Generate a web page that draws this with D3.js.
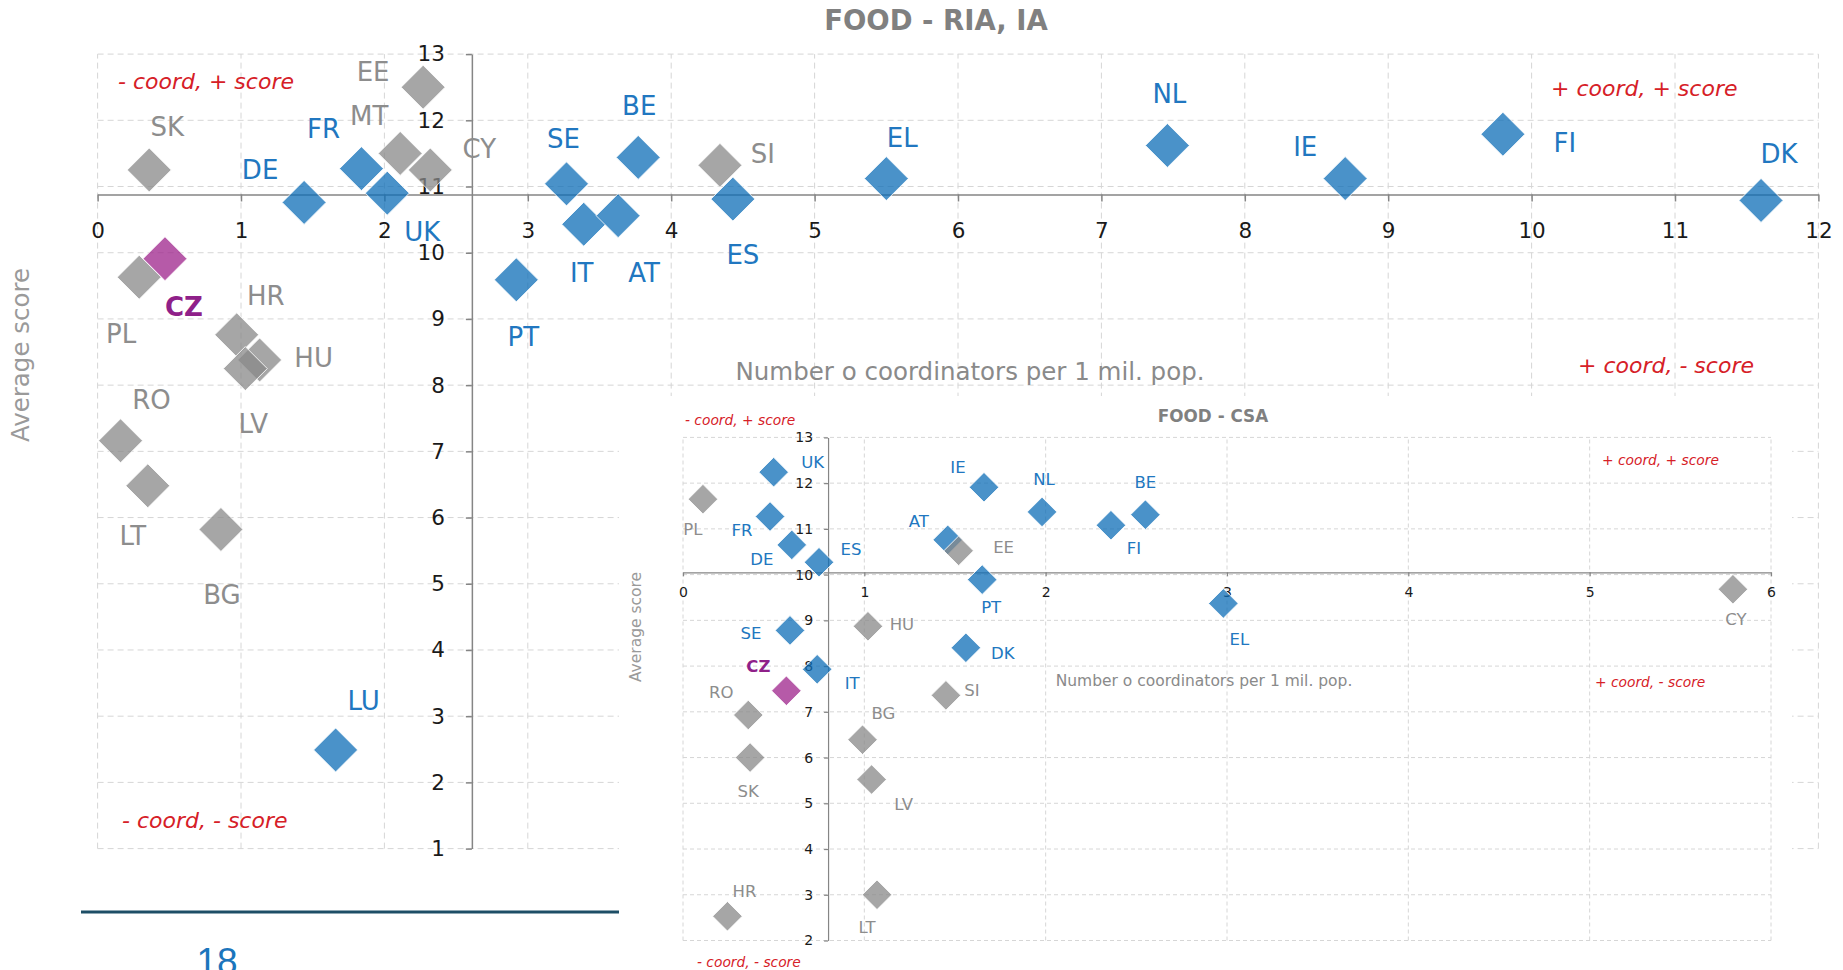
<!DOCTYPE html>
<html><head><meta charset="utf-8">
<script src="https://cdn.jsdelivr.net/npm/d3@7"></script>
<style>
body{margin:0;background:#fff;}
svg{display:block;font-family:"DejaVu Sans",Verdana,sans-serif;}
</style>
</head><body>
<svg id="c" width="1843" height="970"></svg>
<script>
// ================= DATA =================
// Main chart: FOOD - RIA, IA
const mainCountries = ["EE","SK","MT","CY","SI","PL","HR","HU","LV","RO","LT","BG",
  "FR","DE","UK","SE","BE","IT","AT","PT","ES","EL","NL","IE","FI","DK","LU","CZ"];
const mainCoord = [2.27,0.36,2.11,2.32,4.34,0.29,0.97,1.13,1.03,0.16,0.35,0.86,
  1.84,1.44,2.02,3.27,3.77,3.39,3.63,2.92,4.43,5.50,7.46,8.70,9.80,11.60,1.66,0.47];
const mainScore = [12.50,11.25,11.50,11.25,11.32,9.63,8.76,8.38,8.25,7.16,6.48,5.82,
  11.27,10.76,10.90,11.04,11.44,10.43,10.56,9.59,10.81,11.12,11.62,11.12,11.79,10.79,2.49,9.91];
const mainGroup = ["g","g","g","g","g","g","g","g","g","g","g","g",
  "b","b","b","b","b","b","b","b","b","b","b","b","b","b","b","cz"];
const mainXTicks = [0,1,2,3,4,5,6,7,8,9,10,11,12];
const mainYTicks = [1,2,3,4,5,6,7,8,9,10,11,12,13];
const mainCross = {coord: 2.61, score: 10.88};

// Inset chart: FOOD - CSA
const insetCountries = ["PL","HU","SI","RO","BG","SK","LV","LT","HR","CY",
  "UK","FR","DE","ES","IE","NL","BE","FI","AT","PT","EL","SE","DK","IT","EE","CZ"];
const insetCoord = [0.11,1.02,1.45,0.36,0.99,0.37,1.04,1.07,0.245,5.79,
  0.50,0.48,0.60,0.75,1.66,1.98,2.55,2.36,1.46,1.65,2.98,0.59,1.56,0.74,1.52,0.57];
const insetScore = [11.65,8.87,7.36,6.93,6.39,6.00,5.52,3.00,2.53,9.68,
  12.24,11.27,10.65,10.27,11.91,11.37,11.31,11.08,10.76,9.89,9.37,8.78,8.40,7.93,10.52,7.46];
const insetGroup = ["g","g","g","g","g","g","g","g","g","g",
  "b","b","b","b","b","b","b","b","b","b","b","b","b","b","g","cz"];
const insetXTicks = [0,1,2,3,4,5,6];
const insetYTicks = [2,3,4,5,6,7,8,9,10,11,12,13];
const insetCross = {coord: 0.8, score: 10.05};

const quadrantTexts = ["- coord, + score","+ coord, + score","+ coord, - score","- coord, - score"];
const xTitle = "Number o coordinators per 1 mil. pop.";
const yTitle = "Average score";
const pageNumber = "18";

// ================= LAYOUT / STYLE =================
const mainLabelOffset = {
  EE:[-50,-16], SK:[18,-43], MT:[-31,-38], CY:[49,-21], SI:[43,-12], PL:[-18,56],
  HR:[29,-39], HU:[54,-2], LV:[8,55], RO:[31,-41], LT:[-15,50], BG:[1,65],
  FR:[-38,-40], DE:[-44,-33], UK:[35,39], SE:[-3,-45], BE:[1,-52], IT:[-2,48],
  AT:[26,57], PT:[7,57], ES:[10,56], EL:[16,-41], NL:[2,-52], IE:[-40,-32],
  FI:[62,8], DK:[18,-47], LU:[28,-49], CZ:[19,48]
};
const insetLabelOffset = {
  UK:[39,-10], PL:[-10,30], FR:[-28,14], DE:[-30,14], ES:[32,-13], IE:[-26,-20],
  NL:[2,-33], BE:[0,-33], FI:[23,23], AT:[-29,-19], EE:[45,-4], PT:[9,27],
  EL:[16,36], SE:[-39,3], HU:[34,-2], DK:[37,5], IT:[35,14], CZ:[-28,-25],
  SI:[26,-5], RO:[-27,-23], BG:[21,-27], SK:[-2,34], LV:[32,25], LT:[-10,32],
  HR:[17,-25], CY:[3,30]
};
const fillCol = {b:"#0e6eb7", g:"#888888", cz:"#9e238b"};
const labelCol = {b:"#2177c0", g:"#8d8d8d", cz:"#8f2089"};
const redCol = "#d62027";
const gridCol = "#d6d6d6";
const axisCol = "#858585";

const svg = d3.select("#c");

function drawChart(cfg){
  const g = svg.append("g");
  const x = d3.scaleLinear().domain(cfg.xDomain).range(cfg.xRange);
  const y = d3.scaleLinear().domain(cfg.yDomain).range(cfg.yRange);
  // grid
  g.append("g").selectAll("line").data(cfg.xTicks).join("line")
    .attr("x1",d=>x(d)).attr("x2",d=>x(d)).attr("y1",y(cfg.yDomain[0])).attr("y2",y(cfg.yDomain[1]))
    .attr("stroke",gridCol).attr("stroke-width",1).attr("stroke-dasharray",cfg.dash);
  g.append("g").selectAll("line").data(cfg.yTicks).join("line")
    .attr("y1",d=>y(d)).attr("y2",d=>y(d)).attr("x1",x(cfg.xDomain[0])).attr("x2",x(cfg.xDomain[1]))
    .attr("stroke",gridCol).attr("stroke-width",1).attr("stroke-dasharray",cfg.dash);
  // axes
  const ax = g.append("g").attr("transform",`translate(0,${y(cfg.cross.score)})`)
    .call(d3.axisBottom(x).tickValues(cfg.xTicks).tickFormat(d3.format("d"))
      .tickSize(cfg.xTickSize).tickSizeOuter(0).tickPadding(cfg.xPad));
  const ay = g.append("g").attr("transform",`translate(${x(cfg.cross.coord)},0)`)
    .call(d3.axisLeft(y).tickValues(cfg.yTicks).tickFormat(d3.format("d"))
      .tickSize(cfg.yTickSize).tickSizeOuter(0).tickPadding(cfg.yPad));
  [ax,ay].forEach(a=>{
    a.select(".domain").attr("stroke",axisCol).attr("stroke-width",cfg.axisW);
    a.selectAll(".tick line").attr("stroke",axisCol).attr("stroke-width",cfg.axisW);
    a.selectAll(".tick text").attr("fill","#1a1a1a").style("font-size",cfg.tickFont+"px")
      .style("font-family",'"DejaVu Sans",Verdana,sans-serif');
  });
  // titles
  g.append("text").attr("x",cfg.titlePos[0]).attr("y",cfg.titlePos[1]).attr("text-anchor","middle")
    .attr("font-weight","bold").attr("fill","#808080").style("font-size",cfg.titleFont+"px").text(cfg.title);
  g.append("text").attr("x",cfg.xTitlePos[0]).attr("y",cfg.xTitlePos[1]).attr("text-anchor","middle")
    .attr("fill","#8a8a8a").style("font-size",cfg.axTitleFont+"px").text(xTitle);
  g.append("text").attr("transform",`translate(${cfg.yTitlePos[0]},${cfg.yTitlePos[1]}) rotate(-90)`)
    .attr("text-anchor","middle").attr("fill","#9a9a9a").style("font-size",cfg.axTitleFont+"px").text(yTitle);
  // quadrant labels
  g.append("g").selectAll("text").data(quadrantTexts).join("text")
    .attr("x",(d,i)=>cfg.quadPos[i][0]).attr("y",(d,i)=>cfg.quadPos[i][1])
    .attr("fill",redCol).attr("font-style","italic").style("font-size",cfg.quadFont+"px").text(d=>d);
  // points
  const pts = cfg.countries.map((c,i)=>({c, xv:cfg.coord[i], yv:cfg.score[i], grp:cfg.group[i]}));
  const r = cfg.r;
  g.append("g").selectAll("path").data(pts).join("path")
    .attr("d",d=>{const cx=x(d.xv), cy=y(d.yv); return `M${cx},${cy-r}L${cx+r},${cy}L${cx},${cy+r}L${cx-r},${cy}Z`;})
    .attr("fill",d=>fillCol[d.grp]).attr("fill-opacity",0.75)
    .attr("stroke","#fff").attr("stroke-width",1).attr("stroke-opacity",0.85);
  g.append("g").selectAll("text").data(pts).join("text")
    .attr("x",d=>x(d.xv)+cfg.offsets[d.c][0])
    .attr("y",d=>y(d.yv)+cfg.offsets[d.c][1]+0.36*cfg.labelFont)
    .attr("text-anchor","middle").attr("fill",d=>labelCol[d.grp])
    .attr("font-weight",d=>d.grp==="cz"?"bold":"normal")
    .style("font-size",cfg.labelFont+"px").text(d=>d.c);
  return g;
}

// main chart
drawChart({
  xDomain:[0,12], xRange:[97.6,1818.4], yDomain:[1,13], yRange:[848.6,54.1],
  xTicks:mainXTicks, yTicks:mainYTicks, cross:mainCross, dash:"6,4",
  xTickSize:7, xPad:21, yTickSize:6, yPad:21, axisW:1.5, tickFont:21.5,
  title:"FOOD - RIA, IA", titlePos:[936,30], titleFont:27.5,
  xTitlePos:[970,380], yTitlePos:[29,355], axTitleFont:24.5,
  quadPos:[[118,89],[1551,96],[1578,373],[122,828]], quadFont:22,
  countries:mainCountries, coord:mainCoord, score:mainScore, group:mainGroup,
  offsets:mainLabelOffset, r:22, labelFont:26
});

// inset background
svg.append("rect").attr("x",619).attr("y",396).attr("width",1792-619).attr("height",970-396).attr("fill","#fff");

// inset chart
drawChart({
  xDomain:[0,6], xRange:[683,1771], yDomain:[2,13], yRange:[940.5,437.4],
  xTicks:insetXTicks, yTicks:insetYTicks, cross:insetCross, dash:"4,3",
  xTickSize:4, xPad:10.5, yTickSize:4, yPad:11, axisW:1.2, tickFont:14,
  title:"FOOD - CSA", titlePos:[1213,422], titleFont:16.8,
  xTitlePos:[1204,686], yTitlePos:[641,627], axTitleFont:15.5,
  quadPos:[[685,425],[1602,465],[1595,687],[697,967]], quadFont:13.8,
  countries:insetCountries, coord:insetCoord, score:insetScore, group:insetGroup,
  offsets:insetLabelOffset, r:14.8, labelFont:16.5
});

// page footer decoration
svg.append("line").attr("x1",81).attr("x2",619).attr("y1",912).attr("y2",912)
  .attr("stroke","#1d4e66").attr("stroke-width",2.8);
svg.append("text").attr("x",217).attr("y",974).attr("text-anchor","middle")
  .attr("fill","#1b75bc").style("font-family",'"Liberation Sans",Arial,sans-serif')
  .style("font-size","37px").text(pageNumber);
</script>
</body></html>
